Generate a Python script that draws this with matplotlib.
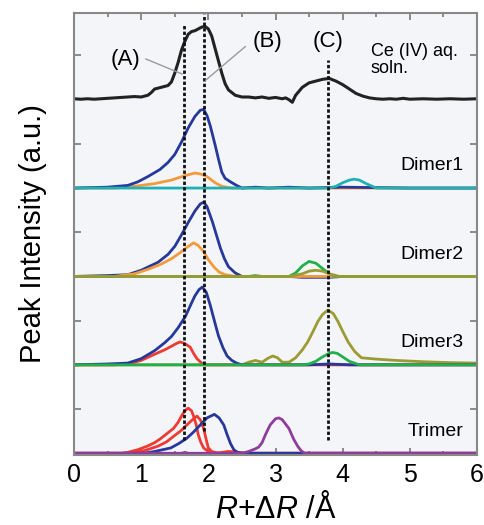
import matplotlib
matplotlib.use("Agg")
import matplotlib.pyplot as plt
import numpy as np

plt.rcParams["font.family"] = ["Liberation Sans", "DejaVu Sans"]
plt.rcParams["mathtext.fontset"] = "custom"
plt.rcParams["mathtext.it"] = "Liberation Sans:italic"
plt.rcParams["mathtext.rm"] = "Liberation Sans"

# ---- data (panel heights, a.u.) ----
ce_x = [0, 0.1, 0.2, 0.3, 0.4, 0.5, 0.6, 0.7, 0.8, 0.9, 1.0, 1.1, 1.15, 1.2, 1.3, 1.4, 1.45,
        1.5, 1.55, 1.6, 1.65, 1.7, 1.75, 1.8, 1.9, 1.95, 2.0, 2.05, 2.1, 2.15, 2.2, 2.25, 2.3,
        2.4, 2.5, 2.6, 2.7, 2.8, 2.9, 3.0, 3.1, 3.15, 3.2, 3.25, 3.3, 3.4, 3.5, 3.6, 3.7, 3.8,
        3.9, 4.0, 4.1, 4.2, 4.3, 4.4, 4.5, 4.6, 4.7, 4.8, 4.9, 5.0, 5.2, 5.4, 5.6, 5.8, 6.0]
ce_y = [0.01, 0.005, 0.01, 0.005, 0.01, 0.015, 0.02, 0.025, 0.03, 0.035, 0.03, 0.05, 0.08, 0.12,
        0.14, 0.16, 0.20, 0.30, 0.42, 0.56, 0.66, 0.74, 0.77, 0.78, 0.82, 0.83, 0.80, 0.72,
        0.58, 0.44, 0.30, 0.18, 0.11, 0.05, 0.03, 0.03, 0.02, 0.03, 0.015, 0.025, 0.01, 0.02,
        0.0, -0.03, 0.05, 0.14, 0.19, 0.21, 0.23, 0.24, 0.21, 0.17, 0.12, 0.07, 0.04, 0.02,
        0.01, 0.005, 0.01, 0.005, 0.015, 0.005, 0.01, 0.005, 0.01, 0.005, 0.01]

d1_blue_x = [0, 0.5, 0.8, 0.95, 1.1, 1.28, 1.4, 1.5, 1.6, 1.7, 1.8, 1.88, 1.93, 1.98, 2.03,
             2.1, 2.15, 2.2, 2.25, 2.33, 2.42, 2.5, 2.7, 2.9, 3.2, 3.5, 4.0, 5.0, 6.0]
d1_blue_y = [0, 0.01, 0.03, 0.07, 0.13, 0.21, 0.29, 0.38, 0.52, 0.68, 0.81, 0.88, 0.89, 0.82,
             0.70, 0.49, 0.33, 0.18, 0.11, 0.07, 0.03, 0.0, 0.01, 0.0, 0.01, 0.0, 0.01, 0.0, 0.0]
d1_orange_x = [0, 0.6, 0.9, 1.2, 1.45, 1.65, 1.8, 1.88, 1.98, 2.1, 2.2, 2.35, 6]
d1_orange_y = [0, 0.0, 0.02, 0.05, 0.09, 0.14, 0.17, 0.16, 0.13, 0.06, 0.02, 0.0, 0.0]
d1_cyan_x = [0, 3.8, 3.9, 4.0, 4.1, 4.17, 4.25, 4.35, 4.5, 6]
d1_cyan_y = [0, 0, 0.02, 0.06, 0.09, 0.10, 0.09, 0.05, 0.0, 0]

d2_blue_x = [0, 0.5, 0.8, 1.0, 1.25, 1.4, 1.5, 1.6, 1.7, 1.8, 1.88, 1.93, 1.98, 2.06, 2.12,
             2.18, 2.24, 2.3, 2.4, 2.5, 3.2, 3.4, 3.8, 4.0, 6]
d2_blue_y = [0, 0.01, 0.02, 0.07, 0.16, 0.25, 0.34, 0.47, 0.61, 0.74, 0.82, 0.84, 0.79, 0.62,
             0.47, 0.32, 0.20, 0.11, 0.04, 0.0, 0.0, -0.01, -0.01, 0, 0]
d2_orange_x = [0, 0.6, 0.9, 1.1, 1.3, 1.45, 1.6, 1.7, 1.78, 1.85, 1.93, 2.0, 2.08, 2.16, 2.25, 2.4, 6]
d2_orange_y = [0, 0.0, 0.03, 0.08, 0.14, 0.20, 0.28, 0.34, 0.38, 0.35, 0.28, 0.19, 0.11, 0.05,
               0.02, 0.0, 0]
d2_green_x = [0, 2.6, 2.7, 2.8, 3.2, 3.3, 3.4, 3.5, 3.6, 3.7, 3.8, 3.9, 6]
d2_green_y = [0, 0, 0.01, 0, 0, 0.04, 0.12, 0.17, 0.15, 0.09, 0.03, 0, 0]
d2_olive_x = [0, 3.2, 3.4, 3.5, 3.6, 3.7, 3.8, 3.95, 6]
d2_olive_y = [0, 0, 0.03, 0.06, 0.07, 0.06, 0.03, 0, 0]

d3_blue_x = [0, 0.5, 0.8, 1.0, 1.2, 1.35, 1.45, 1.55, 1.66, 1.75, 1.8, 1.86, 1.91, 1.97, 2.03,
             2.1, 2.15, 2.22, 2.28, 2.35, 2.42, 2.5, 3.5, 3.8, 4.1, 6]
d3_blue_y = [0, 0.01, 0.02, 0.07, 0.16, 0.25, 0.32, 0.42, 0.55, 0.70, 0.78, 0.85, 0.88, 0.82,
             0.67, 0.47, 0.33, 0.19, 0.10, 0.05, 0.02, 0, 0, 0.01, 0, 0]
d3_red_x = [0, 0.6, 0.8, 1.0, 1.2, 1.35, 1.45, 1.52, 1.58, 1.65, 1.73, 1.78, 1.83, 1.9, 1.95, 6]
d3_red_y = [0, 0, 0.01, 0.05, 0.12, 0.17, 0.21, 0.24, 0.26, 0.24, 0.20, 0.13, 0.07, 0.02, 0.0, 0]
d3_olive_x = [0, 2.5, 2.6, 2.7, 2.75, 2.8, 2.9, 2.96, 3.03, 3.1, 3.2, 3.3, 3.4, 3.48, 3.56,
              3.63, 3.7, 3.78, 3.86, 3.93, 4.0, 4.08, 4.18, 4.28, 4.5, 4.8, 5.2, 5.6, 6]
d3_olive_y = [0, 0, 0.03, 0.05, 0.04, 0.03, 0.08, 0.10, 0.08, 0.03, 0.03, 0.08, 0.17, 0.26,
              0.38, 0.49, 0.57, 0.62, 0.58, 0.49, 0.38, 0.26, 0.15, 0.08, 0.065, 0.05, 0.035,
              0.025, 0.02]
d3_green_x = [0, 3.4, 3.5, 3.6, 3.7, 3.8, 3.85, 3.92, 4.0, 4.1, 4.25, 6]
d3_green_y = [0, 0, 0.01, 0.04, 0.09, 0.13, 0.14, 0.13, 0.09, 0.04, 0.0, 0]

tr_red1_x = [0, 0.7, 0.8, 0.95, 1.09, 1.2, 1.28, 1.38, 1.48, 1.55, 1.6, 1.65, 1.7, 1.75, 1.78,
             1.82, 1.85, 1.89, 1.93, 2.0, 2.1, 2.3, 2.4, 2.5, 6]
tr_red1_y = [0, 0, 0.01, 0.04, 0.08, 0.12, 0.16, 0.22, 0.28, 0.35, 0.42, 0.48, 0.51, 0.48,
             0.42, 0.32, 0.21, 0.12, 0.06, 0.02, 0, 0.02, 0.01, 0, 0]
tr_red2_x = [0, 0.8, 0.9, 1.05, 1.25, 1.38, 1.48, 1.6, 1.68, 1.75, 1.83, 1.88, 1.93, 1.97,
             2.0, 2.05, 2.15, 2.4, 2.5, 2.6, 6]
tr_red2_y = [0, 0, 0.01, 0.03, 0.08, 0.13, 0.19, 0.26, 0.32, 0.37, 0.42, 0.38, 0.28, 0.15,
             0.06, 0.02, 0, 0.02, 0.0, 0, 0]
tr_blue_x = [0, 1.04, 1.2, 1.44, 1.56, 1.68, 1.78, 1.88, 1.98, 2.09, 2.16, 2.23, 2.28, 2.33,
             2.38, 2.43, 2.5, 6]
tr_blue_y = [0, 0, 0.02, 0.06, 0.11, 0.17, 0.24, 0.32, 0.40, 0.44, 0.40, 0.32, 0.21, 0.11,
             0.04, 0.01, 0, 0]
tr_purple_x = [0, 1.6, 1.65, 1.7, 2.5, 2.6, 2.7, 2.75, 2.8, 2.85, 2.92, 3.0, 3.05, 3.1, 3.2,
               3.27, 3.33, 3.38, 3.43, 6]
tr_purple_y = [0, 0, 0.01, 0, 0, 0.02, 0.05, 0.07, 0.12, 0.21, 0.32, 0.39, 0.40, 0.38, 0.28,
               0.16, 0.08, 0.03, 0, 0]

panel_names = ["Trimer", "Dimer3", "Dimer2", "Dimer1"]
marker_pos = {"A": 1.64, "B": 1.93, "C": 3.78}

BLUE = "#27389c"
ORANGE = "#f39a3c"
CYAN = "#1fb0b5"
GREEN = "#22b04a"
OLIVE = "#9c9a32"
RED = "#ee3a32"
PURPLE = "#8e3d9c"

fig = plt.figure(figsize=(4.85, 5.25), dpi=100)
ax = fig.add_axes([0.1526, 0.1333, 0.8309, 0.8419])
ax.set_facecolor("#f3f5f8")

def draw(x, y, off, c, lw=2.0):
    ax.plot(x, np.array(y) + off, color=c, lw=lw, solid_joinstyle="round", solid_capstyle="round")

# Trimer (offset 0)
draw(tr_red1_x, tr_red1_y, 0, RED)
draw(tr_red2_x, tr_red2_y, 0, RED)
draw(tr_blue_x, tr_blue_y, 0, BLUE)
draw(tr_purple_x, tr_purple_y, 0, PURPLE)
# Dimer3 (offset 1)
draw(d3_olive_x, d3_olive_y, 1, OLIVE)
draw(d3_red_x, d3_red_y, 1, RED)
draw(d3_blue_x, d3_blue_y, 1, BLUE)
draw(d3_green_x, d3_green_y, 1, GREEN)
# Dimer2 (offset 2)
draw(d2_blue_x, d2_blue_y, 2, BLUE)
draw(d2_orange_x, d2_orange_y, 2, ORANGE)
draw(d2_green_x, d2_green_y, 2, GREEN)
draw(d2_olive_x, d2_olive_y, 2, OLIVE)
# Dimer1 (offset 3)
draw(d1_orange_x, d1_orange_y, 3, ORANGE)
draw(d1_blue_x, d1_blue_y, 3, BLUE)
draw(d1_cyan_x, d1_cyan_y, 3, CYAN)
# Ce(IV) aq. solution (offset 4)
draw(ce_x, ce_y, 4, "#222222", lw=2.2)

# dotted guide lines
ls = (0, (1.2, 0.8))
ax.plot([marker_pos["A"]] * 2, [0.15, 4.86], color="#111111", lw=2.0, ls=ls)
ax.plot([marker_pos["B"]] * 2, [0.25, 4.97], color="#111111", lw=2.0, ls=ls)
ax.plot([marker_pos["C"]] * 2, [0.15, 4.45], color="#111111", lw=2.0, ls=ls)

# labels
ax.text(0.76, 4.45, "(A)", fontsize=16, ha="center", va="center")
ax.plot([1.07, 1.61], [4.46, 4.29], color="#9a9a9a", lw=1)
ax.text(2.88, 4.66, "(B)", fontsize=16, ha="center", va="center")
ax.plot([2.55, 1.96], [4.60, 4.22], color="#9a9a9a", lw=1)
ax.text(3.78, 4.66, "(C)", fontsize=16, ha="center", va="center")
ax.text(4.42, 4.45, "Ce (IV) aq.\nsoln.", fontsize=13, ha="left", va="center", linespacing=0.95)

for i, name in enumerate(panel_names):
    ax.text(5.8, i + 0.25, name, fontsize=14, ha="right", va="center")

ax.set_xlim(0, 6)
ax.set_ylim(-0.02, 4.98)
ax.set_xticks(np.arange(0, 7, 1))
ax.set_xticks(np.arange(0.5, 6, 1), minor=True)
ax.set_yticks(np.arange(0.5, 5, 1))
ax.set_yticklabels([])
ax.tick_params(axis="both", which="both", direction="in", top=True, right=True,
               color="#777777", width=1.2)
ax.tick_params(axis="x", which="major", length=5, labelsize=18, pad=6)
ax.tick_params(axis="x", which="minor", length=3)
ax.tick_params(axis="y", length=5)
for s in ax.spines.values():
    s.set_color("#888888")
    s.set_linewidth(1.5)

ax.set_xlabel("$R$+Δ$R$ /Å", fontsize=22, labelpad=4)
ax.set_ylabel("Peak Intensity (a.u.)", fontsize=21, labelpad=16)

fig.savefig("out.png", dpi=100)
